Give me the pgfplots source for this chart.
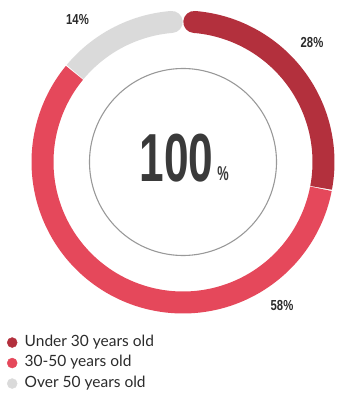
\documentclass[border=0pt]{standalone}
\usepackage{pgfplots}
\pgfplotsset{compat=1.18}
\usepackage{fontspec}
\setmainfont{Lato}
\newfontfamily\numfont{Liberation Sans}
\usepackage{graphicx}
\definecolor{cdark}{HTML}{B3303D}
\definecolor{cred}{HTML}{E5485B}
\definecolor{cgray}{HTML}{DADADA}
\definecolor{ctext}{HTML}{2B2B2B}
\definecolor{cbig}{HTML}{3A3A3A}
% shares in percent
\def\pA{28}\def\pB{58}\def\pC{14}
\pgfmathsetmacro{\bA}{90-\pA*3.6}
\pgfmathsetmacro{\bB}{\bA-\pB*3.6}
\pgfmathsetmacro{\bC}{\bB-\pC*3.6}
\def\g{0.2}
\def\cap{4.6}
\pgfmathsetmacro{\dAs}{\bA+\g}\pgfmathsetmacro{\dAe}{90-\cap}
\pgfmathsetmacro{\dBs}{\bB+\g}\pgfmathsetmacro{\dBe}{\bA-\g}
\pgfmathsetmacro{\dCs}{\bC+\cap}\pgfmathsetmacro{\dCe}{\bB-\g}
\pgfmathsetmacro{\dCcap}{\bC+\cap+0.1}
\pgfmathsetmacro{\dAcap}{90-\cap-0.1}
\def\cx{183}\def\cy{238}\def\rr{140.5}
\begin{document}
\begin{tikzpicture}
\begin{axis}[
  width=349pt, height=400pt, scale only axis,
  xmin=0, xmax=349, ymin=0, ymax=400,
  hide axis, clip=false,
  legend style={at={(axis cs:2,7.5)}, anchor=south west, draw=none, fill=none,
    font=\fontsize{15.5}{18}\selectfont\color{ctext}, row sep=3pt,
    inner sep=0pt, nodes={inner sep=1.5pt, text height=11pt, text depth=3.5pt}},
  legend cell align=left,
  legend image code/.code={\path[draw=none,fill=none] (0pt,0pt) -- (21pt,0pt);
    \draw[#1] plot coordinates {(10pt,0pt)};},
]
\path (rel axis cs:0,0) rectangle (rel axis cs:1,1);
% inner circle
\addplot[forget plot, domain=0:360, samples=180, color=black!40, line width=1.1pt]
  ({\cx+93.5*cos(x)},{\cy+93.5*sin(x)});
% Under 30
\addplot[forget plot, domain=\dAs:\dAe, samples=80, color=cdark, line width=22pt]
  ({\cx+\rr*cos(x)},{\cy+\rr*sin(x)});
\addplot[forget plot, domain=\dAcap:\dAe, samples=2, color=cdark, line width=22pt, line cap=round]
  ({\cx+\rr*cos(x)},{\cy+\rr*sin(x)});
% 30-50
\addplot[forget plot, domain=\dBs:\dBe, samples=150, color=cred, line width=22pt]
  ({\cx+\rr*cos(x)},{\cy+\rr*sin(x)});
% Over 50
\addplot[forget plot, domain=\dCs:\dCe, samples=60, color=cgray, line width=22pt]
  ({\cx+\rr*cos(x)},{\cy+\rr*sin(x)});
\addplot[forget plot, domain=\dCs:\dCcap, samples=2, color=cgray, line width=22pt, line cap=round]
  ({\cx+\rr*cos(x)},{\cy+\rr*sin(x)});
% legend
\addlegendimage{only marks, mark=*, mark size=5pt, color=cdark}
\addlegendentry{Under 30 years old}
\addlegendimage{only marks, mark=*, mark size=5pt, color=cred}
\addlegendentry{30-50 years old}
\addlegendimage{only marks, mark=*, mark size=5pt, color=cgray}
\addlegendentry{Over 50 years old}
% labels
\node[text=ctext] at (axis cs:312,357) {\scalebox{0.78}[1]{\numfont\bfseries\fontsize{14.5}{14.5}\selectfont 28\%}};
\node[text=ctext] at (axis cs:282,94) {\scalebox{0.78}[1]{\numfont\bfseries\fontsize{14.5}{14.5}\selectfont 58\%}};
\node[text=ctext] at (axis cs:77.5,380) {\scalebox{0.78}[1]{\numfont\bfseries\fontsize{14.5}{14.5}\selectfont 14\%}};
\node[text=cbig, inner sep=0pt] at (axis cs:176.5,242) {\scalebox{0.65}[1]{\numfont\bfseries\fontsize{68}{68}\selectfont 100}};
\node[text=cbig, inner sep=0pt] at (axis cs:223,226) {\scalebox{0.64}[1]{\numfont\bfseries\fontsize{20}{20}\selectfont\%}};
\end{axis}
\end{tikzpicture}
\end{document}
